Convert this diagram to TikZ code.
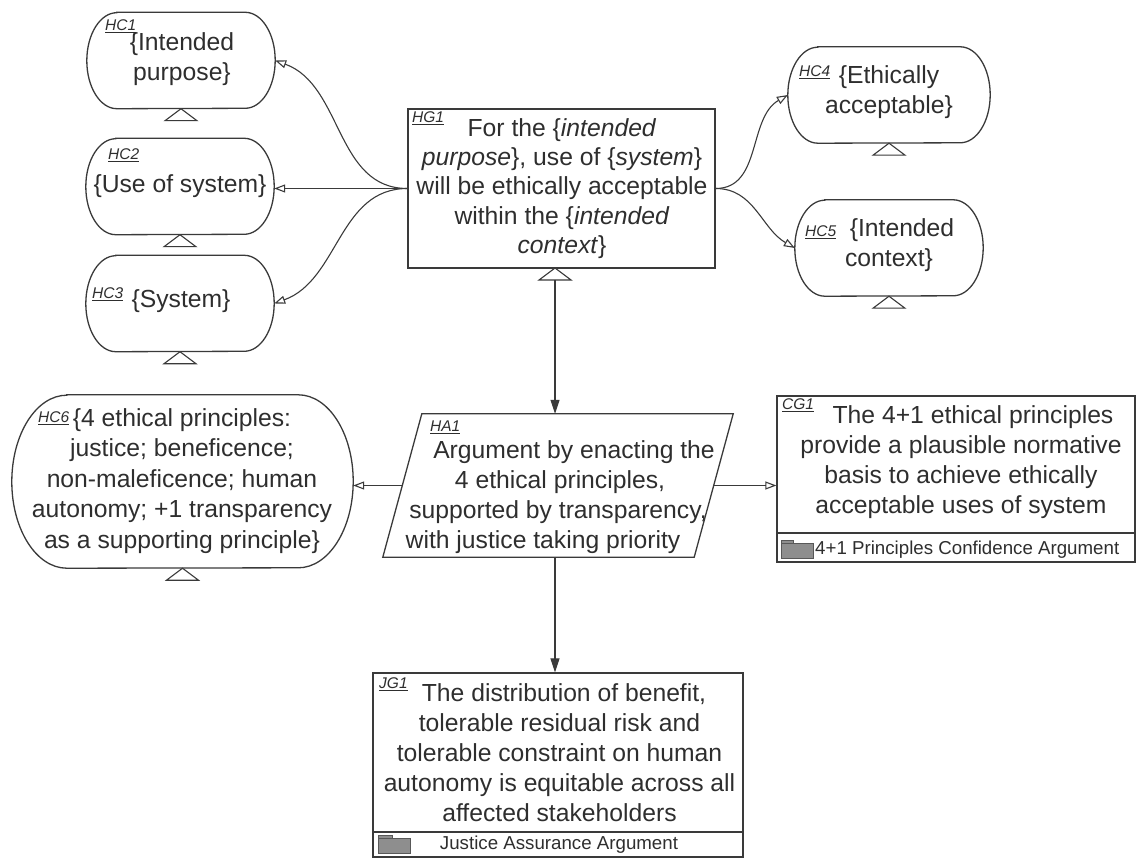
\documentclass[tikz,border=0pt]{standalone}
\usepackage{fontspec}
\setmainfont{Liberation Sans}
\usetikzlibrary{arrows.meta}
\definecolor{ink}{HTML}{2E2E2E}
\definecolor{edge}{HTML}{3A3A3A}
\definecolor{folderfill}{HTML}{8E8E8E}
\tikzset{
  main/.style={font=\fontsize{24.7}{30}\selectfont, text=ink, align=center, inner sep=0pt},
  tag/.style={font=\fontsize{15.5}{18}\selectfont\itshape, text=ink, inner sep=0pt, anchor=west},
  striptext/.style={font=\fontsize{18.7}{22}\selectfont, text=ink, inner sep=0pt},
  frame/.style={draw=edge, line width=1.3pt, inner sep=0pt},
  shell/.style={draw=none, inner sep=0pt, rectangle},
  outline/.style={draw=edge, line width=1.3pt},
  ctx/.style={draw=edge, line width=1.1pt, -{Triangle[open, length=11pt, width=8pt]}},
  supby/.style={draw=edge, line width=1.1pt, -{Triangle[length=14pt, width=9pt]}},
  uninst/.style={draw=edge, line width=1.1pt, fill=white},
  foldericon/.style={draw=edge!85, fill=folderfill, line width=0.8pt},
}
\newcommand{\pillshape}[3]{\draw[outline] ([xshift=#2]#1.north west) -- ([xshift=-#2]#1.north east) arc[start angle=90,end angle=-90,x radius=#2,y radius=#3] -- ([xshift=#2]#1.south west) arc[start angle=270,end angle=90,x radius=#2,y radius=#3] -- cycle;}
\newcommand{\undevtri}[1]{\draw[uninst] (#1) -- ++(16,-12) -- ++(-32,0) -- cycle;}
\begin{document}
\begin{tikzpicture}[x=1pt,y=1pt]
\useasboundingbox (0,0) rectangle (1137,-858);

% ---------- HC1 ----------
\node[shell, minimum width=188pt, minimum height=96pt] (HC1) at (181,-60.5) {};
\pillshape{HC1}{30pt}{48pt}
\node[main] (HC1t) at (182,-59) {\{Intended\\purpose\}};
\node[tag] (HC1l) at (105,-26) {\underline{HC1}};
\undevtri{HC1.south}

% ---------- HC2 ----------
\node[shell, minimum width=188pt, minimum height=96pt] (HC2) at (180,-186.5) {};
\pillshape{HC2}{30pt}{48pt}
\node[main] (HC2t) at (180,-186) {\{Use of system\}};
\node[tag] (HC2l) at (108,-155) {\underline{HC2}};
\undevtri{HC2.south}

% ---------- HC3 ----------
\node[shell, minimum width=188pt, minimum height=96pt] (HC3) at (180,-303.5) {};
\pillshape{HC3}{30pt}{48pt}
\node[main] (HC3t) at (181,-301) {\{System\}};
\node[tag] (HC3l) at (92,-294) {\underline{HC3}};
\undevtri{HC3.south}

% ---------- HC4 ----------
\node[shell, minimum width=202pt, minimum height=96pt] (HC4) at (889,-95) {};
\pillshape{HC4}{30pt}{48pt}
\node[main] (HC4t) at (889,-92.5) {\{Ethically\\acceptable\}};
\node[tag] (HC4l) at (799,-72) {\underline{HC4}};
\undevtri{HC4.south}

% ---------- HC5 ----------
\node[shell, minimum width=188pt, minimum height=96pt] (HC5) at (889,-248) {};
\pillshape{HC5}{30pt}{48pt}
\node[main] (HC5t) at (889,-245) {\hspace*{26pt}\{Intended\\context\}};
\node[tag] (HC5l) at (805,-232) {\underline{HC5}};
\undevtri{HC5.south}

% ---------- HG1 ----------
\node[frame, minimum width=307pt, minimum height=159pt] (HG1) at (561.5,-188.5) {};
\node[main, font=\fontsize{24.7}{29.3}\selectfont] (HG1t) at (562,-188.5)
  {For the \{\textit{intended}\\\textit{purpose}\}, use of \{\textit{system}\}\\will be ethically acceptable\\within the \{\textit{intended}\\\textit{context}\}};
\node[tag] (HG1l) at (412,-118) {\underline{HG1}};
\coordinate (HG1tri) at (555,-268);
\undevtri{HG1tri}
\coordinate (HG1base) at (555,-280);

% ---------- HA1 (parallelogram) ----------
\node[shell, minimum width=350pt, minimum height=143pt] (HA1) at (558,-485.5) {};
\draw[outline] ([xshift=39pt]HA1.north west) -- (HA1.north east) -- ([xshift=-39pt]HA1.south east) -- (HA1.south west) -- cycle;
\coordinate (HA1left) at ([xshift=19.5pt]HA1.west);
\coordinate (HA1right) at ([xshift=-19.5pt]HA1.east);
\node[main] (HA1t) at (558,-497.5)
  {\hspace*{32pt}Argument by enacting the\\\hspace*{4pt}4 ethical principles,\\supported by transparency,\hspace*{8pt}\\with justice taking priority\hspace*{30pt}};
\node[tag] (HA1l) at (430,-427) {\underline{HA1}};

% ---------- HC6 ----------
\node[shell, minimum width=341pt, minimum height=173pt] (HC6) at (182.5,-481.5) {};
\pillshape{HC6}{55pt}{86.5pt}
\node[main, font=\fontsize{24.7}{30.5}\selectfont] (HC6t) at (182,-481)
  {\{4 ethical principles:\\justice; beneficence;\\non-maleficence; human\\autonomy; +1 transparency\\as a supporting principle\}};
\node[tag] (HC6l) at (38,-418) {\underline{HC6}};
\undevtri{HC6.south}

% ---------- CG1 ----------
\node[frame, minimum width=358pt, minimum height=166pt] (CG1) at (956,-479) {};
\draw[outline] (CG1.west |- 0,-533) -- (CG1.east |- 0,-533);
\node[main] (CG1t) at (961,-462)
  {\hspace*{24pt}The 4+1 ethical principles\\provide a plausible normative\\basis to achieve ethically\\acceptable uses of system};
\node[tag] (CG1l) at (782,-405) {\underline{CG1}};
\draw[foldericon] (781,-540) rectangle (793,-543);
\draw[foldericon] (781,-543) rectangle (813,-558);
\node[striptext, anchor=west] (CG1s) at (815,-550) {4+1 Principles Confidence Argument};

% ---------- JG1 ----------
\node[frame, minimum width=370pt, minimum height=184pt] (JG1) at (558,-765) {};
\draw[outline] (JG1.west |- 0,-832) -- (JG1.east |- 0,-832);
\node[main] (JG1t) at (559.5,-752.5)
  {\hspace*{9pt}The distribution of benefit,\\tolerable residual risk and\\tolerable constraint on human\\autonomy is equitable across all\\affected stakeholders};
\node[tag] (JG1l) at (379,-684) {\underline{JG1}};
\draw[foldericon] (378,-835) rectangle (392,-838);
\draw[foldericon] (378,-838) rectangle (410,-853);
\node[striptext] (JG1s) at (559,-845) {Justice Assurance Argument};

% ---------- connectors ----------
\draw[ctx] (HG1.west) to[out=180,in=-20] (HC1.east);
\draw[ctx] (HG1.west) -- (HG1.west -| HC2.east);
\draw[ctx] (HG1.west) to[out=180,in=20] (HC3.east);
\draw[ctx] (HG1.east) to[out=0,in=210] (HC4.west);
\draw[ctx] (HG1.east) to[out=0,in=150] (HC5.west);
\draw[supby] (HG1base) -- (HG1base |- HA1.north);
\draw[ctx] (HA1left) -- (HA1left -| HC6.east);
\draw[ctx] (HA1right) -- (HA1right -| CG1.west);
\draw[supby] ([xshift=-3pt]HA1.south) -- ([xshift=-3pt]HA1.south |- JG1.north);
\end{tikzpicture}
\end{document}
